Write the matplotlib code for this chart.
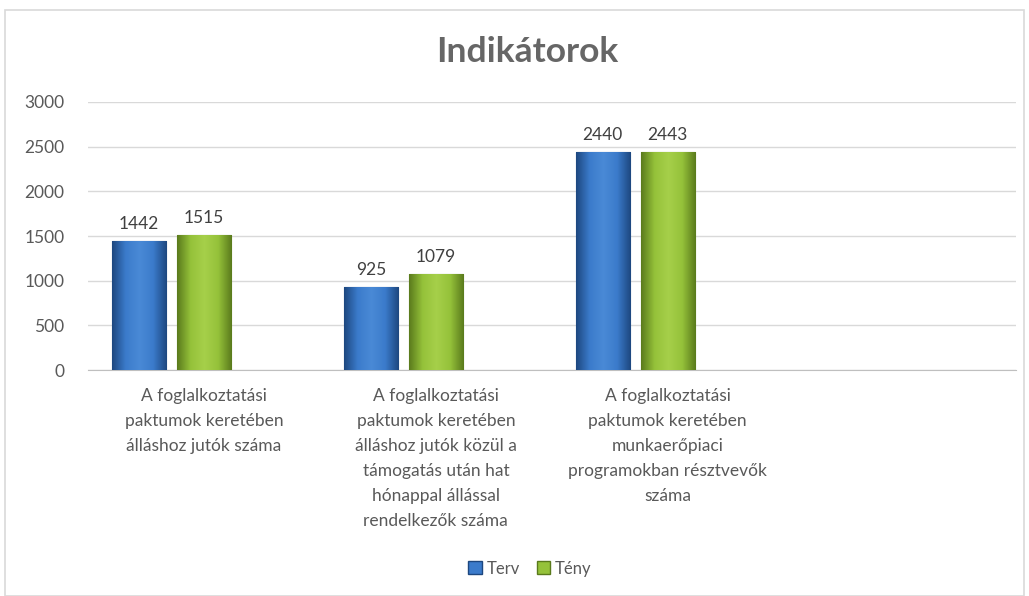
import numpy as np
import matplotlib.pyplot as plt
from matplotlib.colors import LinearSegmentedColormap
from matplotlib.patches import Rectangle, Patch

# Adatok
kategoriak = [
    "A foglalkoztatási\npaktumok keretében\nálláshoz jutók száma",
    "A foglalkoztatási\npaktumok keretében\nálláshoz jutók közül a\ntámogatás után hat\nhónappal állással\nrendelkezők száma",
    "A foglalkoztatási\npaktumok keretében\nmunkaerőpiaci\nprogramokban résztvevők\nszáma",
    "",
]
terv = [1442, 925, 2440, None]
teny = [1515, 1079, 2443, None]
sorozatok = ["Terv", "Tény"]

plt.rcParams['font.family'] = ['Lato', 'DejaVu Sans']
szurke = "#595959"

fig = plt.figure(figsize=(10.29, 5.96), dpi=100)
ax = fig.add_axes([0.0855, 0.379, 0.9015, 0.45])

# keret
fig.patches.append(Rectangle((0.005, 0.0), 0.99, 0.983, transform=fig.transFigure,
                             fill=False, edgecolor="#d9d9d9", linewidth=1.2))

szinek = {
    "Terv": ["#1d477f", "#3b7bcb", "#4a8ad6", "#3b7bcb", "#1d477f"],
    "Tény": ["#5a7a1c", "#95c23a", "#a6d04a", "#95c23a", "#5a7a1c"],
}
szelesseg = 0.233
eltolas = {"Terv": -0.28, "Tény": 0.0}

x = np.arange(len(kategoriak))
for nev, ertekek in zip(sorozatok, [terv, teny]):
    cmap = LinearSegmentedColormap.from_list(nev, szinek[nev])
    for i, v in enumerate(ertekek):
        if v is None:
            continue
        xc = x[i] + eltolas[nev]
        bar = ax.bar(xc, v, width=szelesseg, color=szinek[nev][1], zorder=3,
                     edgecolor=szinek[nev][0], linewidth=0.8)[0]
        grad = np.linspace(0, 1, 256).reshape(1, -1)
        im = ax.imshow(grad, cmap=cmap, aspect="auto", zorder=3.5,
                       extent=[xc - szelesseg / 2, xc + szelesseg / 2, 0, v])
        im.set_clip_path(bar)
        ax.text(xc, v + 100, str(v), ha="center", va="bottom", fontsize=12.5,
                color="#404040", zorder=5)

ax.set_xlim(-0.5, 3.5)
ax.set_ylim(0, 3000)
ax.set_yticks(range(0, 3001, 500))
ax.set_xticks(x)
ax.set_xticklabels(kategoriak, fontsize=12.5, color=szurke, linespacing=1.69)
ax.tick_params(axis="y", labelsize=12.5, labelcolor=szurke, length=0, pad=17)
ax.tick_params(axis="x", length=0, pad=13)
ax.grid(axis="y", color="#d9d9d9", linewidth=1, zorder=0)
for s in ["top", "right", "left"]:
    ax.spines[s].set_visible(False)
ax.spines["bottom"].set_color("#bfbfbf")

fig.text(0.512, 0.913, "Indikátorok", ha="center", va="center",
         fontsize=25.5, color="#666666", fontweight="bold")

kezelok = [Patch(facecolor=szinek[n][1], edgecolor=szinek[n][0]) for n in sorozatok]
fig.legend(kezelok, sorozatok, loc="center", bbox_to_anchor=(0.515, 0.046), ncol=2,
           frameon=False, fontsize=12, handlelength=0.8, handleheight=0.8,
           handletextpad=0.3, columnspacing=1.0, labelcolor=szurke)

fig.savefig("out.png", dpi=100)
